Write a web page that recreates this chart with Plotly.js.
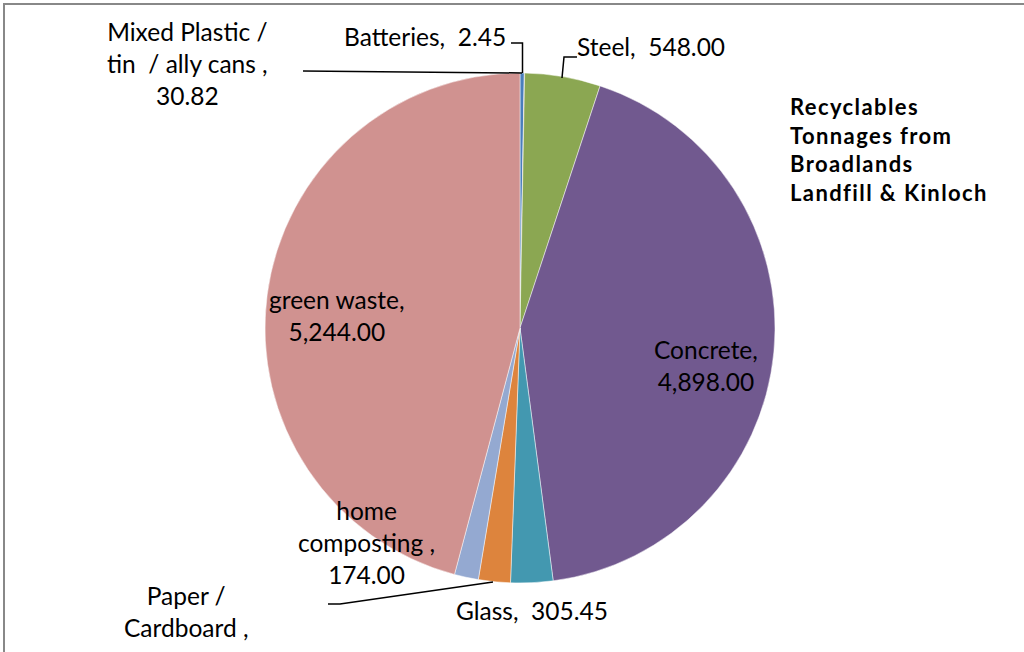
<!DOCTYPE html>
<html>
<head>
<meta charset="utf-8">
<script src="https://cdn.plot.ly/plotly-3.0.1.min.js"></script>
<style>
  html, body { margin: 0; padding: 0; background: #fff; }
  #chart { position: absolute; left: 0; top: 0; width: 1024px; height: 652px; }
  #frame { position: absolute; left: 3px; top: 3px; width: 1030px; height: 660px;
           border-left: 2px solid #888; border-top: 2px solid #888; pointer-events: none; }
</style>
</head>
<body>
<div id="chart"></div>
<div id="frame"></div>
<script>
// ---- data ----
const categories = ["Mixed Plastic / tin  / ally cans", "Batteries", "Steel", "Concrete", "Glass",
                    "Paper / Cardboard", "home composting", "green waste"];
const tonnages = [30.82, 2.45, 548.00, 4898.00, 305.45, 231.00, 174.00, 5244.00];
const sliceColors = ["#4A7EBB", "#BE4B48", "#8BA752", "#71598F", "#4398B0", "#DD843D", "#94A9D1", "#D09290"];
const titleLines = ["Recyclables", "Tonnages from", "Broadlands", "Landfill & Kinloch"];

// label text (category part) with Excel-like line breaks
const labelLines = [
  ["Mixed Plastic /", "tin  / ally cans ,"],
  ["Batteries,  "],
  ["Steel,  "],
  ["Concrete,"],
  ["Glass,  "],
  ["Paper /", "Cardboard ,"],
  ["home", "composting ,"],
  ["green waste,"]
];
// label anchor positions (pixels); nl: value on its own line; hideValue: value cut off in the original
const labelPos = [
  {x: 187, y: 63, nl: true},
  {x: 425, y: 36, nl: false},
  {x: 651, y: 46, nl: false},
  {x: 706, y: 365, nl: true},
  {x: 532, y: 610, nl: false},
  {x: 186, y: 611, nl: true, hideValue: true},
  {x: 366, y: 542, nl: true},
  {x: 337, y: 315, nl: true}
];

const W = 1024, H = 652;
const px = x => x / W, py = y => 1 - y / H;
const fmt = v => v.toLocaleString("en-US", {minimumFractionDigits: 2, maximumFractionDigits: 2});
const FONT = "Lato, Carlito, Calibri, sans-serif";

const annotations = categories.map((c, i) => {
  const lines = labelLines[i].slice();
  if (!labelPos[i].hideValue) {
    if (labelPos[i].nl) lines.push(fmt(tonnages[i]));
    else lines[lines.length - 1] += fmt(tonnages[i]);
  }
  return {
    xref: "paper", yref: "paper", x: px(labelPos[i].x), y: py(labelPos[i].y),
    xanchor: "center", yanchor: "middle", showarrow: false, align: "center",
    text: lines.join("<br>"), font: {family: FONT, size: 24.5, color: "#000"}
  };
});
annotations.push({
  xref: "paper", yref: "paper", x: px(788), y: py(149), xanchor: "left", yanchor: "middle",
  showarrow: false, align: "left",
  text: titleLines.map(t => "<b><span style=\"letter-spacing:1.4px\">" + t + "</span></b>").join("<br>"),
  font: {family: FONT, size: 22, color: "#000"}
});

// leader lines (pixel paths)
const leaders = [
  [[303, 71], [522, 73]],
  [[511, 43], [522.5, 43], [522.5, 73]],
  [[577, 57], [564, 57], [562, 78]],
  [[328, 604], [340, 604], [493, 582]]
];
const shapes = leaders.map(pts => ({
  type: "path", xref: "paper", yref: "paper",
  path: pts.map((p, k) => (k ? "L" : "M") + px(p[0]) + "," + py(p[1])).join(" "),
  line: {color: "#000", width: 1.5}
}));

const cx = 520, cy = 328, r = 255;
const trace = {
  type: "pie",
  labels: categories,
  values: tonnages,
  sort: false,
  direction: "clockwise",
  rotation: 0,
  textinfo: "none",
  hoverinfo: "label+value",
  marker: {colors: sliceColors, line: {color: "rgba(255,255,255,0.6)", width: 0.8}},
  domain: {x: [px(cx - r), px(cx + r)], y: [py(cy + r), py(cy - r)]},
  showlegend: false
};

Plotly.newPlot("chart", [trace], {
  width: W, height: H,
  margin: {l: 0, r: 0, t: 0, b: 0},
  paper_bgcolor: "#fff",
  showlegend: false,
  annotations: annotations,
  shapes: shapes
}, {staticPlot: true});
</script>
</body>
</html>
